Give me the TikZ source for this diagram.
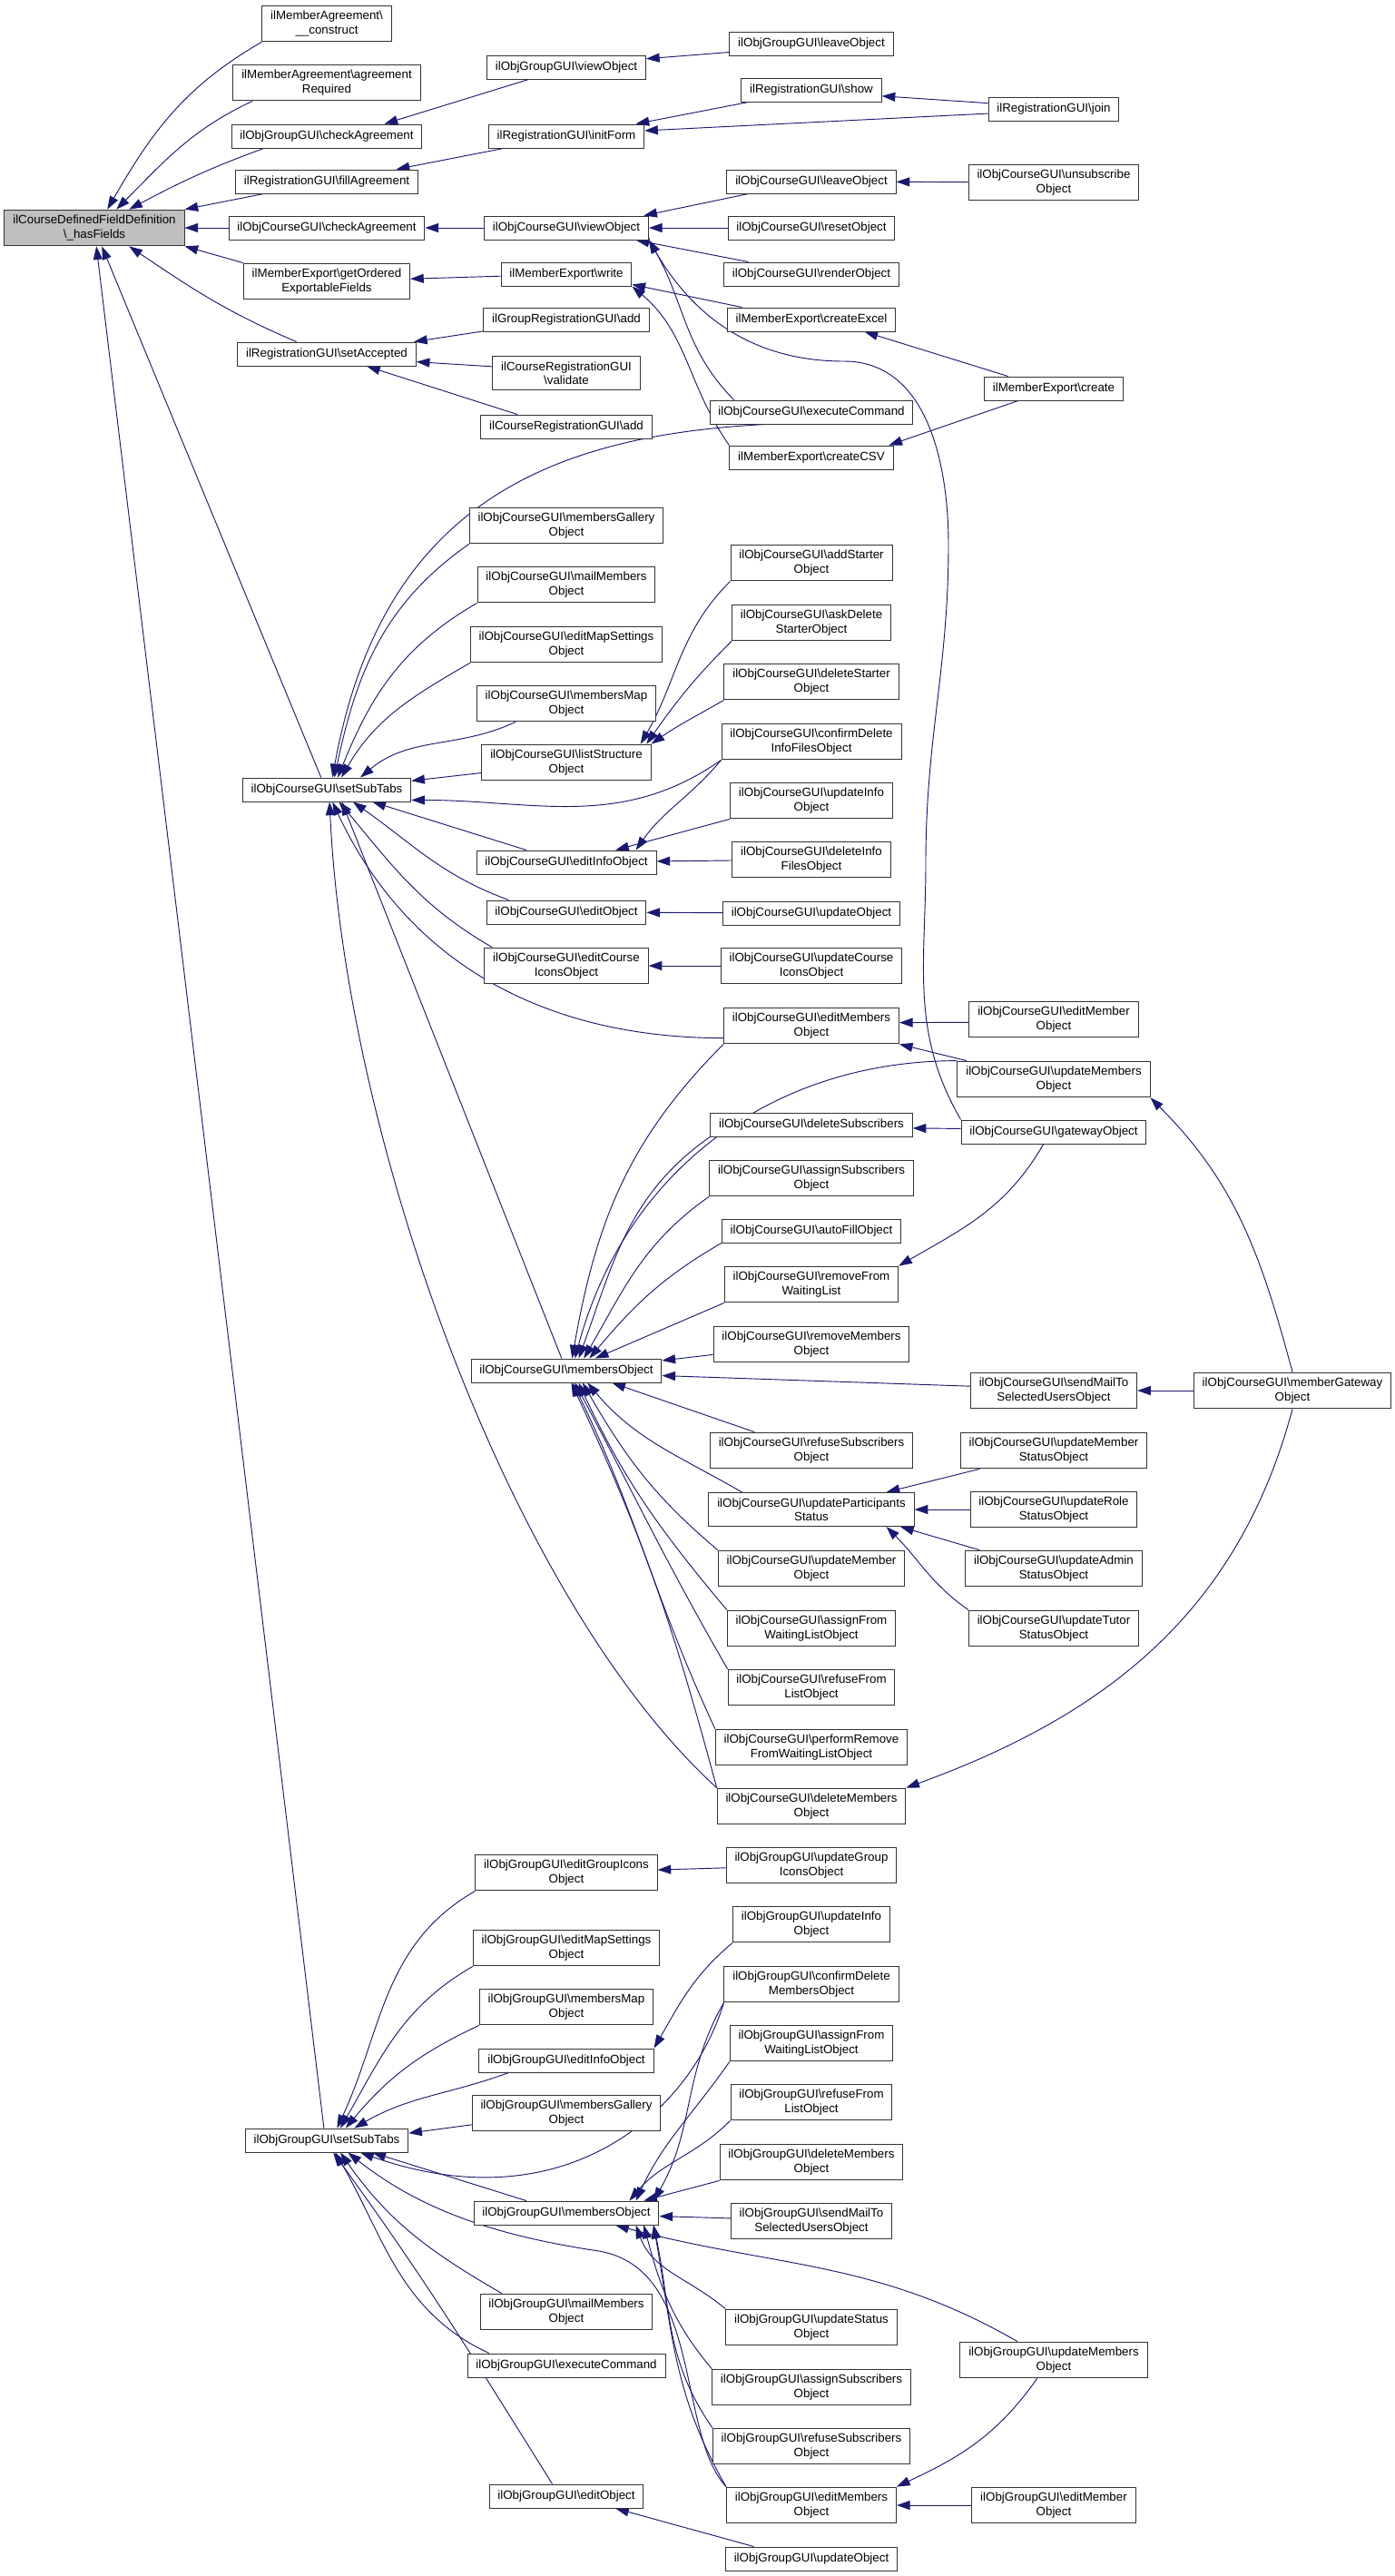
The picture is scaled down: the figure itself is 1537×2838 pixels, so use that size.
\documentclass[tikz,border=0pt]{standalone}
\usepackage{fontspec}
\setmainfont{Liberation Sans}
\usetikzlibrary{arrows.meta,backgrounds}
\definecolor{edgeblue}{HTML}{191970}
\newcommand{\bsl}{\textbackslash}
\newcommand{\cgui}{ilObjCourseGUI\textbackslash}
\newcommand{\ggui}{ilObjGroupGUI\textbackslash}

\begin{document}
\begin{tikzpicture}[
    x=0.75pt, y=-0.75pt,
    box/.style={draw=black!80, line width=0.75pt, fill=white, align=center,
      font=\fontsize{10}{11.5}\selectfont, inner xsep=7pt, inner ysep=4.5pt, minimum height=19.5pt},
    arrow/.style={edgeblue, line width=0.7pt, -{Triangle[length=11pt,width=7.5pt]}}
]
\useasboundingbox (0,0) rectangle (1537,2838);

\node[box, fill=black!25] (hasf) at (104,251) {ilCourseDefinedFieldDefinition\\\bsl\_hasFields};

\node[box] (constr) at (360,26) {ilMemberAgreement\bsl\\\_\_construct};
\node[box] (agreq) at (360,91) {ilMemberAgreement\bsl agreement\\Required};
\node[box] (gcheck) at (360,150) {\ggui checkAgreement};
\node[box] (fillag) at (360,200) {ilRegistrationGUI\bsl fillAgreement};
\node[box] (ccheck) at (360,251) {\cgui checkAgreement};
\node[box] (getord) at (360,310) {ilMemberExport\bsl getOrdered\\ExportableFields};
\node[box] (setacc) at (360,390) {ilRegistrationGUI\bsl setAccepted};
\node[box] (csub) at (360,870) {\cgui setSubTabs};
\node[box] (gsub) at (360,2358) {\ggui setSubTabs};

\node[box] (gview) at (624,74) {\ggui viewObject};
\node[box] (initf) at (624,150) {ilRegistrationGUI\bsl initForm};
\node[box] (cview) at (624,251) {\cgui viewObject};
\node[box] (mwrite) at (624,302) {ilMemberExport\bsl write};
\node[box] (gradd) at (624,352) {ilGroupRegistrationGUI\bsl add};
\node[box] (crvalid) at (624,411) {ilCourseRegistrationGUI\\\bsl validate};
\node[box] (cradd) at (624,470) {ilCourseRegistrationGUI\bsl add};
\node[box] (cgallery) at (624,579) {\cgui membersGallery\\Object};
\node[box] (cmail) at (624,644) {\cgui mailMembers\\Object};
\node[box] (cmapset) at (624,710) {\cgui editMapSettings\\Object};
\node[box] (cmap) at (624,775) {\cgui membersMap\\Object};
\node[box] (clist) at (624,840) {\cgui listStructure\\Object};
\node[box] (cinfo) at (624,950) {\cgui editInfoObject};
\node[box] (cedit) at (624,1005) {\cgui editObject};
\node[box] (cicons) at (624,1064) {\cgui editCourse\\IconsObject};
\node[box] (cmembers) at (624,1510) {\cgui membersObject};
\node[box] (gicons) at (624,2063) {\ggui editGroupIcons\\Object};
\node[box] (gmapset) at (624,2146) {\ggui editMapSettings\\Object};
\node[box] (gmap) at (624,2211) {\ggui membersMap\\Object};
\node[box] (ginfo) at (624,2270) {\ggui editInfoObject};
\node[box] (ggallery) at (624,2328) {\ggui membersGallery\\Object};
\node[box] (gmembers) at (624,2438) {\ggui membersObject};
\node[box] (gmail) at (624,2547) {\ggui mailMembers\\Object};
\node[box] (gexec) at (624,2606) {\ggui executeCommand};
\node[box] (gedit) at (624,2750) {\ggui editObject};

\node[box] (gleave) at (894,48) {\ggui leaveObject};
\node[box] (rshow) at (894,99) {ilRegistrationGUI\bsl show};
\node[box] (cleave) at (894,200) {\cgui leaveObject};
\node[box] (creset) at (894,251) {\cgui resetObject};
\node[box] (crender) at (894,302) {\cgui renderObject};
\node[box] (mexcel) at (894,352) {ilMemberExport\bsl createExcel};
\node[box] (cexec) at (894,454) {\cgui executeCommand};
\node[box] (mcsv) at (894,504) {ilMemberExport\bsl createCSV};
\node[box] (caddst) at (894,620) {\cgui addStarter\\Object};
\node[box] (caskst) at (894,686) {\cgui askDelete\\StarterObject};
\node[box] (cdelst) at (894,751) {\cgui deleteStarter\\Object};
\node[box] (cconfinfo) at (894,817) {\cgui confirmDelete\\InfoFilesObject};
\node[box] (cupdinfo) at (894,882) {\cgui updateInfo\\Object};
\node[box] (cdelinfo) at (894,947) {\cgui deleteInfo\\FilesObject};
\node[box] (cupdate) at (894,1006) {\cgui updateObject};
\node[box] (cupdicons) at (894,1064) {\cgui updateCourse\\IconsObject};
\node[box] (ceditm) at (894,1130) {\cgui editMembers\\Object};
\node[box] (cdelsub) at (894,1239) {\cgui deleteSubscribers};
\node[box] (cassignsub) at (894,1298) {\cgui assignSubscribers\\Object};
\node[box] (cautofill) at (894,1356) {\cgui autoFillObject};
\node[box] (cremwait) at (894,1415) {\cgui removeFrom\\WaitingList};
\node[box] (cremmem) at (894,1481) {\cgui removeMembers\\Object};
\node[box] (crefsub) at (894,1598) {\cgui refuseSubscribers\\Object};
\node[box] (cupdpart) at (894,1663) {\cgui updateParticipants\\Status};
\node[box] (cupdmem) at (894,1728) {\cgui updateMember\\Object};
\node[box] (cassignwait) at (894,1794) {\cgui assignFrom\\WaitingListObject};
\node[box] (creffrom) at (894,1859) {\cgui refuseFrom\\ListObject};
\node[box] (cperform) at (894,1925) {\cgui performRemove\\FromWaitingListObject};
\node[box] (cdelmem) at (894,1990) {\cgui deleteMembers\\Object};
\node[box] (gupdicons) at (894,2055) {\ggui updateGroup\\IconsObject};
\node[box] (gupdinfo) at (894,2120) {\ggui updateInfo\\Object};
\node[box] (gconfdel) at (894,2186) {\ggui confirmDelete\\MembersObject};
\node[box] (gassignwait) at (894,2251) {\ggui assignFrom\\WaitingListObject};
\node[box] (greffrom) at (894,2316) {\ggui refuseFrom\\ListObject};
\node[box] (gdelmem) at (894,2382) {\ggui deleteMembers\\Object};
\node[box] (gsendmail) at (894,2447) {\ggui sendMailTo\\SelectedUsersObject};
\node[box] (gupdstat) at (894,2564) {\ggui updateStatus\\Object};
\node[box] (gassignsub) at (894,2630) {\ggui assignSubscribers\\Object};
\node[box] (grefsub) at (894,2695) {\ggui refuseSubscribers\\Object};
\node[box] (geditm) at (894,2760) {\ggui editMembers\\Object};
\node[box] (gupdate) at (894,2819) {\ggui updateObject};

\node[box] (rjoin) at (1161,120) {ilRegistrationGUI\bsl join};
\node[box] (cunsub) at (1161,201) {\cgui unsubscribe\\Object};
\node[box] (mcreate) at (1161,428) {ilMemberExport\bsl create};
\node[box] (ceditmember) at (1161,1123) {\cgui editMember\\Object};
\node[box] (cupdmems) at (1161,1189) {\cgui updateMembers\\Object};
\node[box] (cgateway) at (1161,1247) {\cgui gatewayObject};
\node[box] (csendmail) at (1161,1532) {\cgui sendMailTo\\SelectedUsersObject};
\node[box] (cupdmemstat) at (1161,1598) {\cgui updateMember\\StatusObject};
\node[box] (cupdrole) at (1161,1663) {\cgui updateRole\\StatusObject};
\node[box] (cupdadmin) at (1161,1728) {\cgui updateAdmin\\StatusObject};
\node[box] (cupdtutor) at (1161,1794) {\cgui updateTutor\\StatusObject};
\node[box] (gupdmems) at (1161,2600) {\ggui updateMembers\\Object};
\node[box] (geditmember) at (1161,2760) {\ggui editMember\\Object};

\node[box] (cmemgate) at (1424,1532) {\cgui memberGateway\\Object};

\begin{scope}[on background layer]
\fill[white] (0,0) rectangle (1537,2838);

\draw[arrow] (constr.south west) to[out=210,in=60] (hasf.55);
\draw[arrow] (agreq.194) to[out=205,in=45] (hasf.40);
\draw[arrow] (gcheck.191) to[out=200,in=28] (hasf.28);
\draw[arrow] (fillag.191) -- (hasf.north east);
\draw[arrow] (ccheck) -- (hasf);
\draw[arrow] (getord.north west) -- (hasf.south east);
\draw[arrow] (setacc.158) to[out=157,in=326] (hasf.332);
\draw[arrow] (csub.115) -- (hasf.292);
\draw[arrow] (gsub.103) -- (hasf.276);

\draw[arrow] (gview.198) -- (gcheck.12);
\draw[arrow] (initf.191) -- (fillag.10);
\draw[arrow] (cview) -- (ccheck);
\draw[arrow] (mwrite) -- (getord);
\draw[arrow] (gradd.188) -- (setacc.8);
\draw[arrow] (crvalid.175) -- (setacc.355);
\draw[arrow] (cradd.166) -- (setacc.343);

\draw[arrow] (gleave.186) -- (gview.6);
\draw[arrow] (rshow.191) -- (initf.10);
\draw[arrow] (rjoin.184) -- (initf.4);
\draw[arrow] (rjoin.175) -- (rshow.355);
\draw[arrow] (cleave.191) -- (cview.9);
\draw[arrow] (creset) -- (cview);
\draw[arrow] (crender.169) -- (cview.350);
\draw[arrow] (cexec.171) to[out=135,in=300] (cview.south east);
\draw[arrow] (cgateway.north west) to[out=120,in=270] (1020,950) to[out=90,in=270] (1045,600)
  to[out=90,in=0] (930,398) to[out=180,in=300] (cview.south east);
\draw[arrow] (mexcel.170) -- (mwrite.351);
\draw[arrow] (mcsv.north west) to[out=125,in=320] (mwrite.south east);
\draw[arrow] (mcreate.165) -- (mexcel.347);
\draw[arrow] (mcreate.199) -- (mcsv.9);
\draw[arrow] (cunsub) -- (cleave);

\draw[arrow] (cexec.195) .. controls (600,480) and (420,560) .. (csub.65);
\draw[arrow] (cgallery.south west) to[out=215,in=78] (csub.58);
\draw[arrow] (cmail.south west) to[out=210,in=68] (csub.48);
\draw[arrow] (cmapset.south west) to[out=210,in=60] (csub.40);
\draw[arrow] (cmap.200) to[out=205,in=40] (csub.20);
\draw[arrow] (clist.187) -- (csub.6);
\draw[arrow] (cconfinfo.south west) to[out=215,in=0] (csub.353);
\draw[arrow] (cinfo.163) -- (csub.345);
\draw[arrow] (cedit.168) to[out=160,in=325] (csub.335);
\draw[arrow] (cicons.166) to[out=150,in=310] (csub.315);
\draw[arrow] (ceditm.188) to[out=180,in=295] (csub.295);
\draw[arrow] (cmembers.111) -- (csub.321);
\draw[arrow] (cdelmem.north west) .. controls (560,1760) and (380,1250) .. (csub.283);

\draw[arrow] (caddst.south west) to[out=225,in=60] (clist.14);
\draw[arrow] (caskst.south west) to[out=225,in=55] (clist.13);
\draw[arrow] (cdelst.south west) to[out=210,in=35] (clist.north east);
\draw[arrow] (cconfinfo.south west) to[out=230,in=55] (cinfo.10);
\draw[arrow] (cupdinfo.south west) -- (cinfo.14);
\draw[arrow] (cdelinfo) -- (cinfo);
\draw[arrow] (cupdate) -- (cedit);
\draw[arrow] (cupdicons) -- (cicons);

\draw[arrow] (ceditm.south west) to[out=225,in=80] (cmembers.65);
\draw[arrow] (cupdmems.north west) to[out=180,in=75] (cmembers.55);
\draw[arrow] (cdelsub.south west) to[out=215,in=70] (cmembers.45);
\draw[arrow] (cassignsub.south west) to[out=215,in=60] (cmembers.35);
\draw[arrow] (cautofill.south west) to[out=210,in=50] (cmembers.28);
\draw[arrow] (cremwait.south west) -- (cmembers.23);
\draw[arrow] (cremmem.186) -- (cmembers.6);
\draw[arrow] (csendmail.177) -- (cmembers.357);
\draw[arrow] (crefsub.162) -- (cmembers.345);
\draw[arrow] (cupdpart.166) to[out=150,in=310] (cmembers.330);
\draw[arrow] (cupdmem.north west) to[out=140,in=300] (cmembers.323);
\draw[arrow] (cassignwait.north west) to[out=130,in=295] (cmembers.315);
\draw[arrow] (creffrom.north west) to[out=120,in=298] (cmembers.305);
\draw[arrow] (cperform.north west) to[out=115,in=296] (cmembers.298);
\draw[arrow] (cdelmem.north west) to[out=105,in=295] (cmembers.292);

\draw[arrow] (ceditmember.182) -- (ceditm.2);
\draw[arrow] (cupdmems.168) -- (ceditm.south east);
\draw[arrow] (cgateway.178) -- (cdelsub.358);
\draw[arrow] (cgateway.230) to[out=240,in=30] (cremwait.north east);
\draw[arrow] (cmemgate) -- (csendmail);
\draw[arrow] (cmemgate.north) to[out=105,in=315] (cupdmems.south east);
\draw[arrow] (cmemgate.south) to[out=255,in=20] (cdelmem.north east);
\draw[arrow] (cupdmemstat.194) -- (cupdpart.13);
\draw[arrow] (cupdrole) -- (cupdpart);
\draw[arrow] (cupdadmin.166) -- (cupdpart.349);
\draw[arrow] (cupdtutor.north west) to[out=145,in=315] (cupdpart.347);

\draw[arrow] (gicons.south west) to[out=210,in=65] (gsub.50);
\draw[arrow] (gmapset.south west) to[out=210,in=60] (gsub.42);
\draw[arrow] (gmap.south west) to[out=205,in=50] (gsub.33);
\draw[arrow] (ginfo.192) to[out=200,in=30] (gsub.24);
\draw[arrow] (ggallery.187) -- (gsub.5);
\draw[arrow] (gmembers.163) -- (gsub.345);
\draw[arrow] (gconfdel.south west) .. controls (760,2330) and (620,2450) .. (gsub.340);
\draw[arrow] (geditm.north west) .. controls (745,2680) and (775,2500) .. (660,2480)
  .. controls (560,2465) and (470,2440) .. (gsub.330);
\draw[arrow] (gmail.164) to[out=150,in=305] (gsub.318);
\draw[arrow] (gexec.171) to[out=155,in=300] (gsub.305);
\draw[arrow] (gedit.139) to[out=122,in=306] (gsub.298);

\draw[arrow] (gupdicons) -- (gicons);
\draw[arrow] (gupdinfo.south west) to[out=220,in=60] (ginfo.north east);
\draw[arrow] (gconfdel.south west) to[out=240,in=60] (gmembers.8);
\draw[arrow] (gassignwait.south west) to[out=235,in=65] (gmembers.10);
\draw[arrow] (greffrom.south west) to[out=225,in=50] (gmembers.11);
\draw[arrow] (gdelmem.south west) -- (gmembers.9);
\draw[arrow] (gsendmail.178) -- (gmembers.358);
\draw[arrow] (gupdmems.153) to[out=150,in=345] (gmembers.346);
\draw[arrow] (gupdstat.north west) to[out=140,in=290] (gmembers.350);
\draw[arrow] (gassignsub.north west) to[out=130,in=285] (gmembers.351);
\draw[arrow] (grefsub.north west) to[out=125,in=282] (gmembers.352);
\draw[arrow] (geditm.north west) to[out=120,in=280] (gmembers.352);
\draw[arrow] (gupdmems.228) to[out=235,in=25] (geditm.north east);
\draw[arrow] (geditmember) -- (geditm);
\draw[arrow] (gupdate.168) -- (gedit.346);
\end{scope}
\end{tikzpicture}
\end{document}
